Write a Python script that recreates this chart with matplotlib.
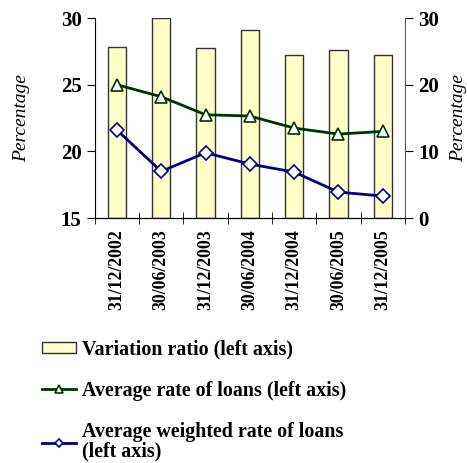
import numpy as np
import matplotlib.pyplot as plt

dates = ['31/12/2002', '30/06/2003', '31/12/2003', '30/06/2004',
         '31/12/2004', '30/06/2005', '31/12/2005']
variation_ratio = [27.8, 30.0, 27.75, 29.1, 27.2, 27.6, 27.2]
avg_rate = [25.0, 24.1, 22.75, 22.65, 21.75, 21.3, 21.5]
avg_weighted_rate = [21.6, 18.5, 19.9, 19.05, 18.45, 16.95, 16.65]

plt.rcParams['font.family'] = ['Liberation Serif', 'DejaVu Serif']

fig = plt.figure(figsize=(4.67, 4.63), dpi=100)
ax = fig.add_axes([0.203, 0.529, 0.664, 0.432])
x = np.arange(len(dates))

bars = ax.bar(x, np.array(variation_ratio) - 15, bottom=15, width=0.41,
              color='#ffffc8', edgecolor='#333333', linewidth=1.0,
              label='Variation ratio (left axis)')
l1, = ax.plot(x, avg_rate, color='#003300', lw=2, marker='^', ms=9,
              mfc='white', mec='#003300', mew=1.2,
              label='Average rate of loans (left axis)')
l2, = ax.plot(x, avg_weighted_rate, color='#000080', lw=2, marker='D', ms=7,
              mfc='white', mec='#000080', mew=1.2,
              label='Average weighted rate of loans\n(left axis)')

ax.set_xlim(-0.5, len(dates) - 0.5)
ax.set_ylim(15, 30)
ax.set_yticks([15, 20, 25, 30])
ax.set_xticks(x)
ax.set_xticklabels(dates, rotation=90, fontsize=12.8, fontweight='bold')
ax.set_xticks(np.arange(-0.5, len(dates)), minor=True)
ax.tick_params(axis='x', which='major', length=0, pad=8)
ax.tick_params(axis='x', which='minor', length=8, direction='inout')
for lab in ax.get_yticklabels():
    lab.set_fontweight('bold')
ax.tick_params(axis='y', labelsize=15, length=6, direction='out')
ax.set_ylabel('Percentage', fontsize=14, style='italic', labelpad=22)
ax.spines['top'].set_visible(False)
ax.spines['right'].set_visible(False)

ax2 = ax.twinx()
ax2.set_ylim(0, 30)
ax2.set_yticks([0, 10, 20, 30])
ax2.tick_params(axis='y', labelsize=15, length=6, direction='out')
for lab in ax2.get_yticklabels():
    lab.set_fontweight('bold')
ax2.set_ylabel('Percentage', fontsize=14, style='italic', labelpad=8)
ax2.spines['top'].set_visible(False)
ax2.spines['left'].set_visible(False)
ax2.spines['right'].set_color('#555555')

leg = fig.legend(handles=[bars, l1, l2], loc='upper left', bbox_to_anchor=(0.052, 0.305),
                 frameon=False, prop={'size': 14.4, 'weight': 'bold'},
                 handlelength=1.7, handleheight=0.5, handletextpad=0.3,
                 labelspacing=1.05, markerscale=0.65)
for t in leg.get_texts():
    t.set_linespacing(1.0)

fig.savefig('out.png', dpi=100)
